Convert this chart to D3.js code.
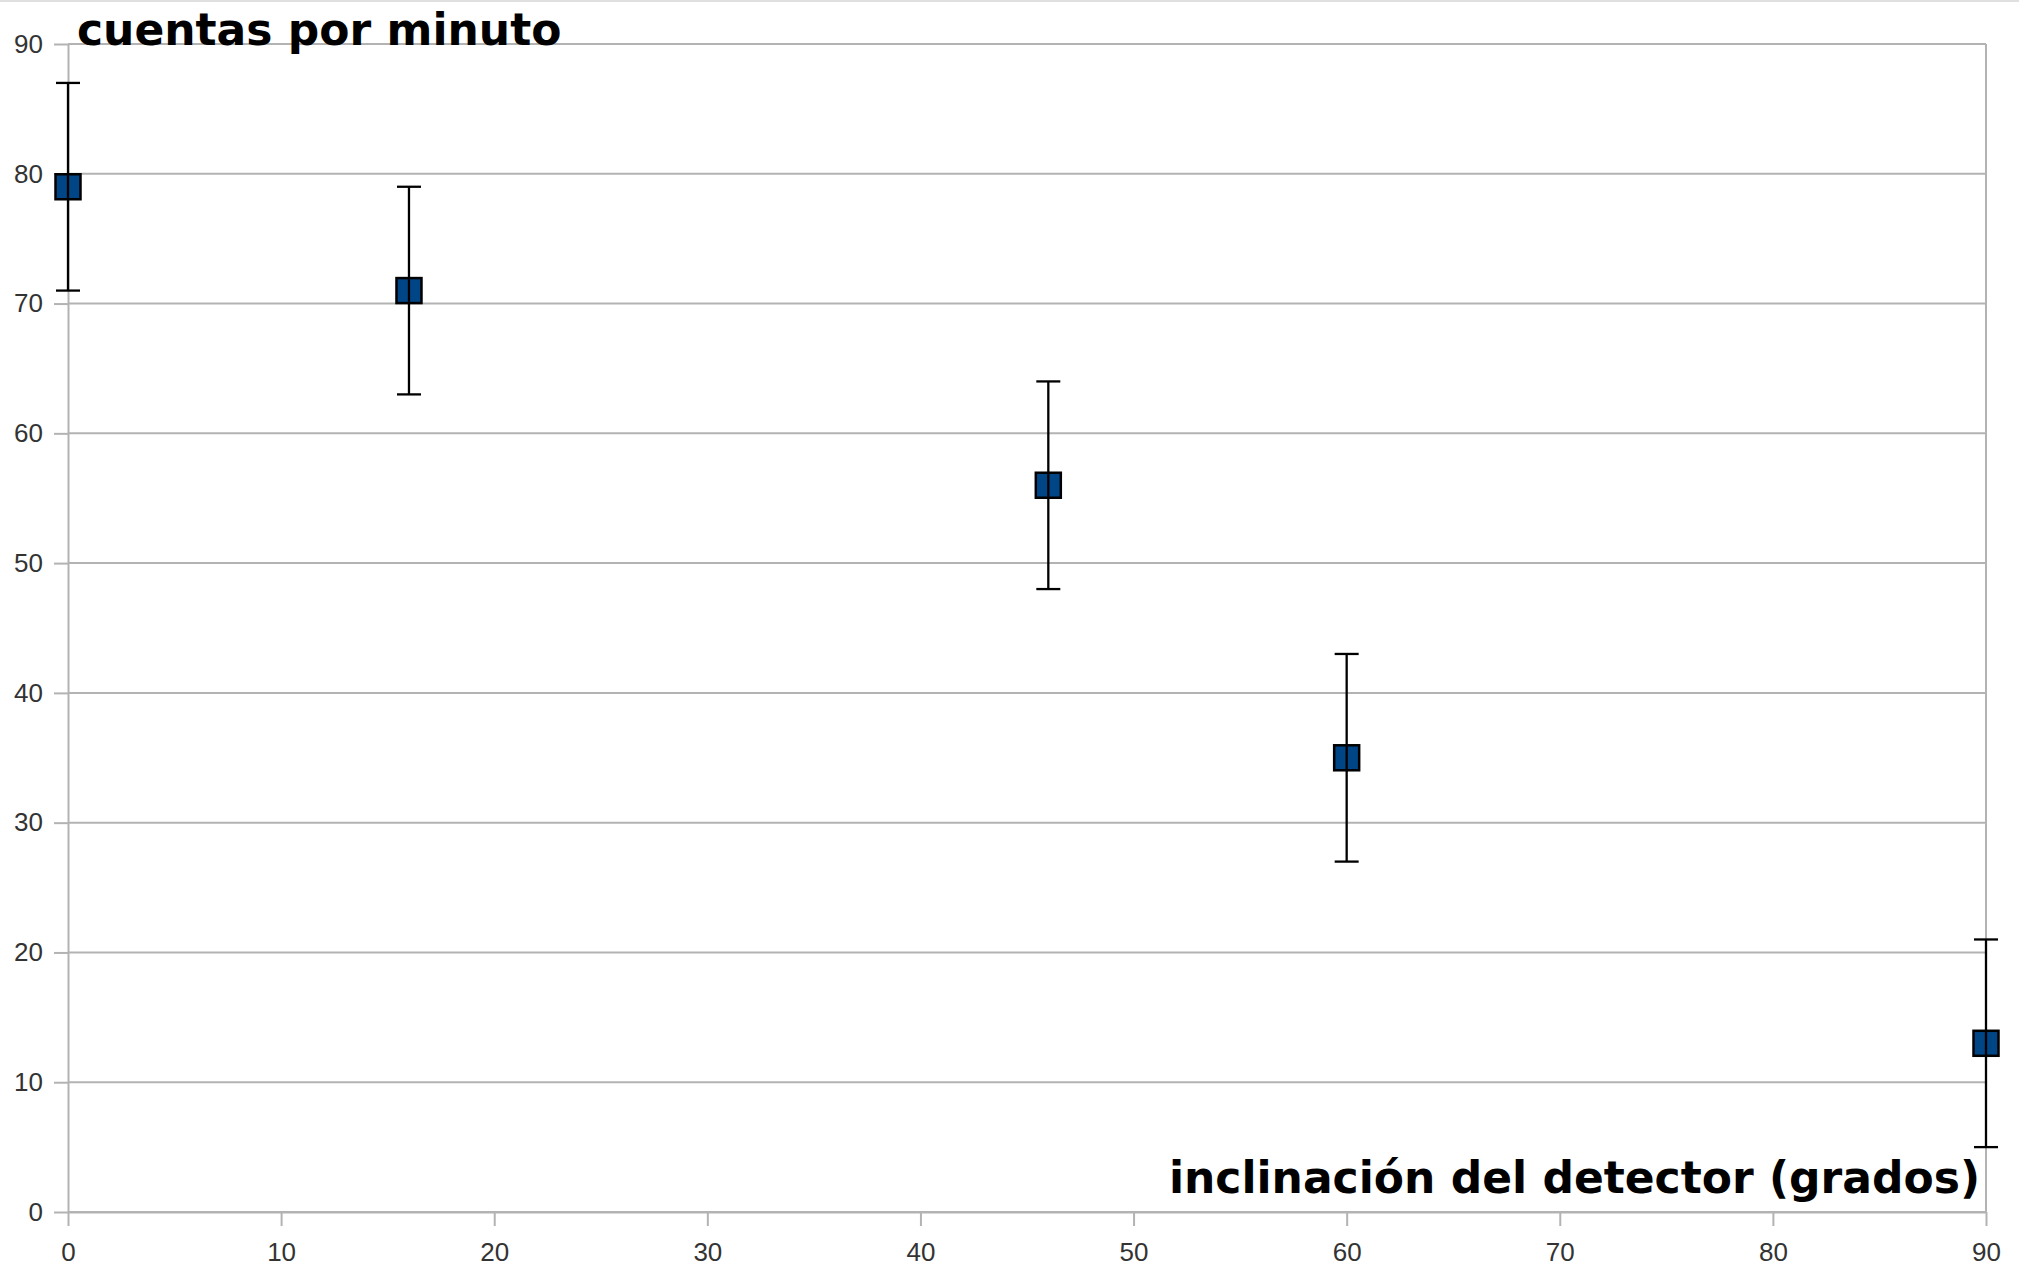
<!DOCTYPE html>
<html>
<head>
<meta charset="utf-8">
<script src="https://cdn.jsdelivr.net/npm/d3@7"></script>
<style>
  body { margin: 0; background: #fff; }
  .tick text { font-family: "Liberation Sans", Arial, sans-serif; font-size: 26px; fill: #333; }
  .title { font-family: "DejaVu Sans", sans-serif; font-weight: bold; font-size: 44px; fill: #000; }
</style>
</head>
<body>
<svg id="chart" width="2019" height="1272"></svg>
<script>
// angulo del detector (grados) y cuentas por minuto
var angles = [0, 16, 46, 60, 90];
var counts = [79, 71, 56, 35, 13];
var errors = [8, 8, 8, 8, 8];
var xTicks = [0, 10, 20, 30, 40, 50, 60, 70, 80, 90];
var yTicks = [0, 10, 20, 30, 40, 50, 60, 70, 80, 90];

var W = 2019, H = 1272;
var margin = {top: 44, right: 33, bottom: 60, left: 68};
var svg = d3.select("#chart");

var x = d3.scaleLinear().domain([0, 90]).range([margin.left, W - margin.right]);
var y = d3.scaleLinear().domain([0, 90]).range([H - margin.bottom, margin.top]);

// borde superior de la imagen
svg.append("line").attr("x1", 0).attr("x2", W).attr("y1", 1).attr("y2", 1)
    .attr("stroke", "#e0e0e0").attr("stroke-width", 2);

// lineas de cuadricula
svg.append("g").selectAll("line").data(yTicks).enter().append("line")
    .attr("x1", x(0)).attr("x2", x(90))
    .attr("y1", function(d){ return y(d) }).attr("y2", function(d){ return y(d) })
    .attr("stroke", "#b3b3b3").attr("stroke-width", 2);

// borde derecho
svg.append("line").attr("x1", x(90)).attr("x2", x(90)).attr("y1", y(90)).attr("y2", y(0))
    .attr("stroke", "#b3b3b3").attr("stroke-width", 2);

var yAxis = svg.append("g").attr("transform", "translate(" + x(0) + ",0)")
    .call(d3.axisLeft(y).tickValues(yTicks).tickSize(14).tickSizeOuter(0).tickPadding(11));
var xAxis = svg.append("g").attr("transform", "translate(0," + y(0) + ")")
    .call(d3.axisBottom(x).tickValues(xTicks).tickSize(14).tickSizeOuter(0).tickPadding(17));
[xAxis, yAxis].forEach(function(a){
  a.select(".domain").attr("stroke", "#b3b3b3").attr("stroke-width", 2);
  a.selectAll(".tick line").attr("stroke", "#b3b3b3").attr("stroke-width", 2);
});

var pts = angles.map(function(a, i){ return {a: a, c: counts[i], e: errors[i]} });
var m = 25, cap = 24;

// marcadores
svg.append("g").selectAll("rect").data(pts).enter().append("rect")
    .attr("x", function(d){ return x(d.a) - m/2 })
    .attr("y", function(d){ return y(d.c) - m/2 })
    .attr("width", m).attr("height", m)
    .attr("fill", "#004586").attr("stroke", "#000").attr("stroke-width", 2.5);

// barras de error (por encima de los marcadores)
var eb = svg.append("g").attr("stroke", "#000").attr("stroke-width", 2.3);
pts.forEach(function(d){
  eb.append("line").attr("x1", x(d.a)).attr("x2", x(d.a))
    .attr("y1", y(d.c + d.e)).attr("y2", y(d.c - d.e));
  [d.c + d.e, d.c - d.e].forEach(function(v){
    eb.append("line").attr("x1", x(d.a) - cap/2).attr("x2", x(d.a) + cap/2)
      .attr("y1", y(v)).attr("y2", y(v));
  });
});

svg.append("text").attr("class", "title").attr("x", 77).attr("y", 45).text("cuentas por minuto");
svg.append("text").attr("class", "title").attr("x", 1980).attr("y", 1193)
    .attr("text-anchor", "end").text("inclinación del detector (grados)");
</script>
</body>
</html>
